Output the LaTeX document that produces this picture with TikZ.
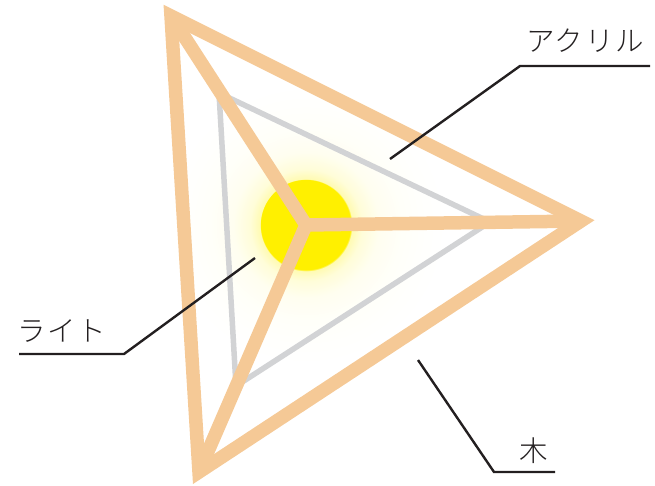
\documentclass[tikz,border=0pt]{standalone}
\usepackage{fontspec}
\newfontfamily\jpfont[LetterSpace=6]{Noto Sans CJK JP Light}
\definecolor{wood}{HTML}{F5C996}
\definecolor{acrylic}{HTML}{D2D3D5}
\definecolor{lamp}{HTML}{FFF000}
\definecolor{leader}{HTML}{231F20}
\pgfdeclareradialshading{glow}{\pgfpoint{0bp}{0bp}}{
  color(0bp)=(lamp);
  color(8bp)=(lamp);
  color(8.2bp)=(lamp!30!white);
  color(10bp)=(lamp!15!white);
  color(13bp)=(lamp!6!white);
  color(17bp)=(lamp!2.5!white);
  color(21bp)=(lamp!1!white);
  color(25bp)=(white);
  color(50bp)=(white)}
\tikzset{
  woodline/.style={draw=wood,line width=13.5pt,miter limit=10,line join=miter},
  acrylicline/.style={draw=acrylic,line width=5.5pt,line join=miter},
  leaderline/.style={draw=leader,line width=2.4pt,line join=miter},
  lbl/.style={inner sep=0pt,font=\jpfont\fontsize{28.5}{28.5}\selectfont,text=leader}
}
\begin{document}
\begin{tikzpicture}[x=1pt,y=-1pt]
\useasboundingbox (0,0) rectangle (655,485);
\coordinate (O) at (306,225);
\coordinate (A) at (171,16);
\coordinate (B) at (581,221);
\coordinate (C) at (199,472);
\coordinate (P) at (219,93);
\coordinate (Q) at (490,222);
\coordinate (R) at (236,386);
\shade[shading=glow] (O) circle (140);
\fill[lamp] (O) circle (45);
\draw[acrylicline] (P) -- (Q) -- (R) -- cycle;
\draw[woodline] (A) -- (O) (B) -- (O) (C) -- (O);
\draw[woodline] (A) -- (B) -- (C) -- cycle;
\node[lbl] (acr) at (585,41) {アクリル};
\node[lbl] (lite) at (62,331) {ライト};
\node[lbl] (wd) at (534,451) {木};
\coordinate (a0) at (390,159);
\coordinate (a1) at (520,66);
\coordinate (a2) at (650,66);
\coordinate (l0) at (255,258);
\coordinate (l1) at (124,354);
\coordinate (l2) at (19,354);
\coordinate (w0) at (418,360);
\coordinate (w1) at (494,472);
\coordinate (w2) at (555,472);
\draw[leaderline] (a0) -- (a1) -- (a2);
\draw[leaderline] (l0) -- (l1) -- (l2);
\draw[leaderline] (w0) -- (w1) -- (w2);
\end{tikzpicture}
\end{document}
